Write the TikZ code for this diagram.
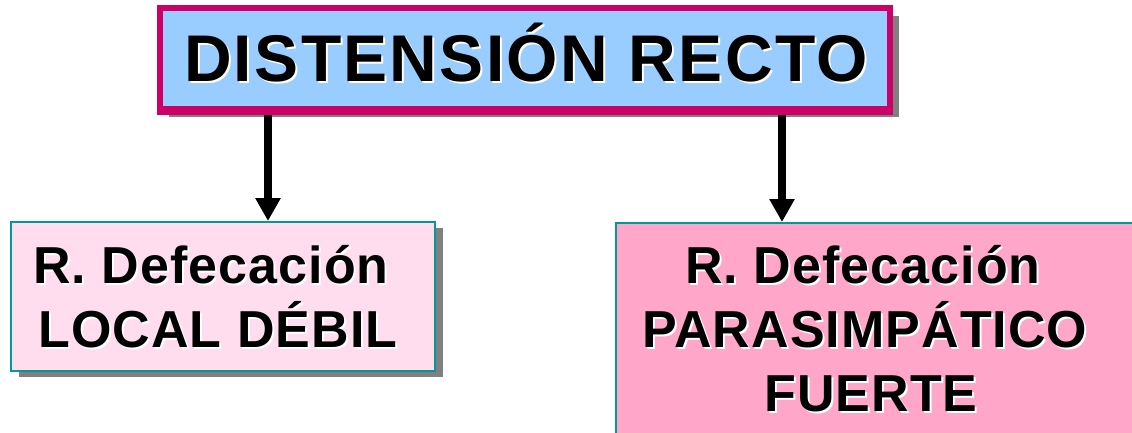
\documentclass[tikz,border=0pt]{standalone}
\usepackage{fontspec}
\setmainfont{Liberation Sans}
\newfontfamily\headfont{Liberation Sans}[LetterSpace=3.5]
\newfontfamily\bodyfont{Liberation Sans}[LetterSpace=2]
\usetikzlibrary{arrows.meta,shadows}

\definecolor{headfill}{RGB}{153,204,255}
\definecolor{headline}{RGB}{204,0,102}
\definecolor{weakfill}{RGB}{255,221,238}
\definecolor{strongfill}{RGB}{255,166,201}
\definecolor{tealline}{RGB}{0,153,153}
\definecolor{shadowgray}{RGB}{128,128,128}

\tikzset{
  headbox/.style={draw=headline, line width=6pt, fill=headfill,
    drop shadow={shadow xshift=9pt, shadow yshift=-8pt, fill=shadowgray, opacity=1}},
  reflexbox/.style={draw=tealline, line width=2pt,
    drop shadow={shadow xshift=8pt, shadow yshift=-6pt, fill=shadowgray, opacity=1}},
  lbl/.style={anchor=base, inner sep=0pt, font=\bodyfont\bfseries\fontsize{52}{60}\selectfont},
  headlbl/.style={anchor=base, inner sep=0pt, font=\headfont\bfseries\fontsize{66}{70}\selectfont},
  flow/.style={line width=8pt, -{Triangle[width=24pt,length=23pt]}},
}

% text with a white offset copy underneath
\newcommand\shadowlabel[5]{%
  \node[#1, text=white] (#2s) at (#3+2,#4+2) {#5};
  \node[#1, text=black] (#2) at (#3,#4) {#5};
}

\begin{document}
\begin{tikzpicture}[x=1pt,y=-1pt]
  \useasboundingbox (0,0) rectangle (1132,433);
  \clip (0,0) rectangle (1132,433);

  \coordinate (axl) at (268,0);
  \coordinate (axr) at (782,0);

  % boxes
  \node[headbox, minimum width=730pt, minimum height=101pt] (top) at (525,58.5) {};
  \node[reflexbox, fill=weakfill, minimum width=424pt, minimum height=149pt] (weak) at (223,296.5) {};
  \node[reflexbox, fill=strongfill, minimum width=524pt, minimum height=227pt] (strong) at (878,336.5) {};

  % connectors, then the lower edge of the heading box over their tails
  \draw[flow] (top.south -| axl) -- (weak.north -| axl);
  \draw[flow] (top.south -| axr) -- (strong.north -| axr);
  \draw[headline, line width=6pt] (top.south west) -- (top.south east);

  % labels
  \shadowlabel{headlbl}{title}{526}{82}{DISTENSIÓN RECTO}
  \shadowlabel{lbl}{w1}{211}{283}{R. Defecación}
  \shadowlabel{lbl}{w2}{218}{347}{LOCAL DÉBIL}
  \shadowlabel{lbl}{s1}{863}{283}{R. Defecación}
  \shadowlabel{lbl}{s2}{865}{347}{PARASIMPÁTICO}
  \shadowlabel{lbl}{s3}{871}{411}{FUERTE}
\end{tikzpicture}
\end{document}
